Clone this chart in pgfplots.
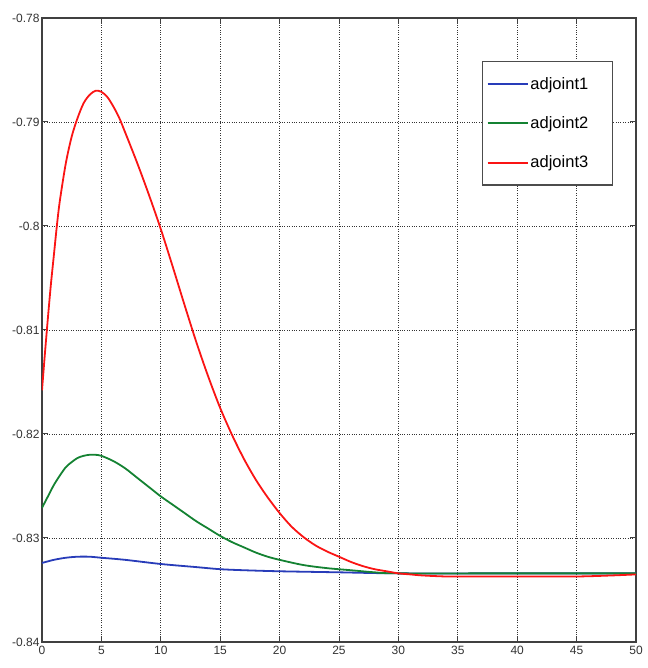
\documentclass[border=0pt]{standalone}
\usepackage{pgfplots}
\pgfplotsset{compat=1.18}
\usepackage{fontspec}
\setmainfont{Liberation Sans}
\definecolor{mblue}{RGB}{40,60,185}
\definecolor{mgreen}{RGB}{20,130,50}
\definecolor{mred}{RGB}{250,20,20}
\begin{document}
\begin{tikzpicture}
\begin{axis}[
  name=ax,
  scale only axis,
  width=594pt, height=624pt,
  xmin=0, xmax=50, ymin=-0.84, ymax=-0.78,
  xtick={0,5,...,50},
  ytick={-0.84,-0.83,-0.82,-0.81,-0.8,-0.79,-0.78},
  yticklabels={-0.84,-0.83,-0.82,-0.81,-0.8,-0.79,-0.78},
  xticklabels={0,5,10,15,20,25,30,35,40,45,50},
  tick align=inside,
  tick pos=both,
  major tick length=6pt,
  tick style={black!75, line width=1pt},
  axis line style={black!75, line width=1.1pt},
  grid=major,
  major grid style={black!80, dotted, line width=0.7pt},
  tick label style={font=\fontsize{12}{12}\selectfont, text=black!80},
  xticklabel style={yshift=-1pt},
  yticklabel style={xshift=1pt},
  legend cell align=left,
  legend style={
    at={(0.961,0.931)}, anchor=north east,
    draw=black!70, line width=1.1pt,
    font=\fontsize{16.5}{16.5}\selectfont,
    inner xsep=4pt, inner ysep=13.5pt,
    row sep=22pt,
  },
  legend image code/.code={\draw[#1, sharp plot, line width=1.7pt] (0pt,0pt) -- (40pt,0pt);},
]
\addplot[mblue, line width=1.8pt, smooth] coordinates {
(0,-0.8324) (1,-0.8321) (2,-0.8319) (3,-0.8318) (4,-0.8318) (5,-0.8319)
(7,-0.8321) (10,-0.8325) (13,-0.8328) (15,-0.8330) (17,-0.8331) (20,-0.8332)
(25,-0.8333) (30,-0.8334) (40,-0.8334) (50,-0.8334)};
\addlegendentry{adjoint1\hspace*{18pt}}
\addplot[mgreen, line width=1.8pt, smooth] coordinates {
(0,-0.8271) (0.5,-0.8260) (1,-0.8249) (1.5,-0.8240) (2,-0.8232) (2.5,-0.8227)
(3,-0.8223) (3.5,-0.8221) (4,-0.8220) (4.5,-0.8220) (5,-0.8221) (6,-0.8226)
(7,-0.8233) (8,-0.8242) (9,-0.8251) (10,-0.8260) (11,-0.8268) (12,-0.8276)
(13,-0.8284) (14,-0.8291) (15,-0.8298) (16,-0.8304) (17,-0.8309) (18,-0.8314)
(19,-0.8318) (20,-0.8321) (22,-0.8326) (24,-0.8329) (26,-0.8331) (28,-0.8333)
(30,-0.8334) (40,-0.8334) (50,-0.8334)};
\addlegendentry{adjoint2\hspace*{18pt}}
\addplot[mred, line width=1.8pt, smooth] coordinates {
(0,-0.8158) (0.25,-0.8122) (0.5,-0.8088) (0.75,-0.8056) (1,-0.8028)
(1.25,-0.8000) (1.5,-0.7976) (2,-0.7940) (2.5,-0.7914) (3,-0.7896)
(3.5,-0.7882) (4,-0.7874) (4.5,-0.7870) (5,-0.7871) (5.5,-0.7876)
(6,-0.7885) (6.5,-0.7896) (7,-0.7910) (8,-0.7939) (9,-0.7970)
(10,-0.8003) (11,-0.8039) (12,-0.8076) (13,-0.8112) (14,-0.8145)
(15,-0.8175) (16,-0.8201) (17,-0.8224) (18,-0.8244) (19,-0.8261)
(20,-0.8276) (21,-0.8289) (22,-0.8299) (23,-0.8307) (24,-0.8313)
(25,-0.8318) (26,-0.8323) (27,-0.8327) (28,-0.8330) (29,-0.8332)
(30,-0.8334) (31,-0.8335) (32,-0.8336) (34,-0.8337) (36,-0.8337)
(40,-0.8337) (45,-0.8337) (48,-0.8336) (50,-0.8335)};
\addlegendentry{adjoint3\hspace*{18pt}}
\end{axis}
\path[use as bounding box] ([xshift=-42pt,yshift=-26pt]ax.south west) rectangle ([xshift=12pt,yshift=18pt]ax.north east);
\end{tikzpicture}
\end{document}
